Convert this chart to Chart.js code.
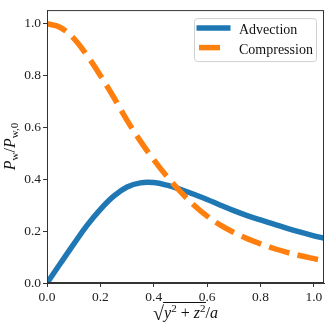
<!DOCTYPE html>
<html>
<head>
<meta charset="utf-8">
<script src="https://cdn.jsdelivr.net/npm/chart.js@4.4.1/dist/chart.umd.min.js"></script>
<style>
  html, body { margin: 0; padding: 0; background: #fff; }
</style>
</head>
<body>
<canvas id="c" width="332" height="329"></canvas>
<script>
// radial distance sqrt(y^2+z^2)/a
const xValues = [0, 0.05, 0.1, 0.15, 0.2, 0.25, 0.3, 0.35, 0.4, 0.45, 0.5,
  0.55, 0.6, 0.65, 0.7, 0.75, 0.8, 0.85, 0.9, 0.95, 1.0, 1.04];
const advection = [0, 0.075, 0.15, 0.222, 0.284, 0.335, 0.37, 0.386, 0.387, 0.377, 0.361,
  0.342, 0.322, 0.3, 0.279, 0.26, 0.243, 0.227, 0.211, 0.196, 0.182, 0.172];
const compression = [1.0, 0.985, 0.943, 0.877, 0.80, 0.716, 0.627, 0.547, 0.475, 0.41, 0.352,
  0.301, 0.258, 0.223, 0.195, 0.171, 0.151, 0.133, 0.118, 0.105, 0.094, 0.086];
const seriesNames = ['Advection', 'Compression'];
const xTicks = [0, 0.2, 0.4, 0.6, 0.8, 1.0];
const yTicks = [0, 0.2, 0.4, 0.6, 0.8, 1.0];

const BLUE = '#1f77b4';
const ORANGE = '#ff7f0e';
const SERIF = '"Liberation Serif", "Times New Roman", serif';
const DASH = [20.6, 8.9];

// dibuja una secuencia de trozos de texto (para sub/superindices)
function runsWidth(ctx, runs) {
  let w = 0;
  runs.forEach(r => { ctx.font = r.font; w += ctx.measureText(r.t).width; });
  return w;
}
function drawRuns(ctx, runs, x, y) {
  runs.forEach(r => {
    ctx.font = r.font;
    ctx.fillText(r.t, x, y + (r.dy || 0));
    r.x0 = x;
    x += ctx.measureText(r.t).width;
    r.x1 = x;
  });
}

const decorations = {
  id: 'decorations',
  afterDraw(chart) {
    const ctx = chart.ctx;
    const a = chart.chartArea;
    ctx.save();

    // marco completo
    ctx.strokeStyle = '#333';
    ctx.lineWidth = 1;
    ctx.strokeRect(a.left + 0.5, a.top + 0.5, a.right - a.left - 1, a.bottom - a.top - 1);

    // leyenda
    const bx = a.right - 130, by = a.top + 8, bw = 122, bh = 43;
    ctx.beginPath();
    ctx.roundRect(bx + 0.5, by + 0.5, bw, bh, 3);
    ctx.fillStyle = 'rgba(255,255,255,0.8)';
    ctx.fill();
    ctx.strokeStyle = '#d0d0d0';
    ctx.stroke();

    ctx.lineCap = 'butt';
    ctx.lineWidth = 5.5;
    ctx.strokeStyle = BLUE;
    ctx.beginPath();
    ctx.moveTo(bx + 2.5, by + 10);
    ctx.lineTo(bx + 36.5, by + 10);
    ctx.stroke();
    ctx.strokeStyle = ORANGE;
    ctx.beginPath();
    ctx.moveTo(bx + 5, by + 29.5);
    ctx.lineTo(bx + 26, by + 29.5);
    ctx.stroke();

    ctx.fillStyle = '#111';
    ctx.font = '14px ' + SERIF;
    ctx.textBaseline = 'alphabetic';
    ctx.fillText(seriesNames[0], bx + 45, by + 15.5);
    ctx.fillText(seriesNames[1], bx + 45, by + 35.5);

    // titulo eje x: sqrt(y^2 + z^2)/a
    const big = 'italic 16px ' + SERIF;
    const rom = '16px ' + SERIF;
    const sup = '11px ' + SERIF;
    const xRuns = [
      { t: '\u221A', font: '20px ' + SERIF, dy: 2 },
      { t: 'y', font: big },
      { t: '2', font: sup, dy: -6 },
      { t: ' + ', font: rom },
      { t: 'z', font: big },
      { t: '2', font: sup, dy: -6 },
      { t: '/', font: rom },
      { t: 'a', font: big }
    ];
    const cx = (a.left + a.right) / 2;
    const xw = runsWidth(ctx, xRuns);
    const baseX = 318;
    drawRuns(ctx, xRuns, cx - xw / 2, baseX);
    ctx.strokeStyle = '#111';
    ctx.lineWidth = 1;
    ctx.beginPath();
    ctx.moveTo(xRuns[0].x1 - 1, 302.5);
    ctx.lineTo(xRuns[5].x1 + 0.5, 302.5);
    ctx.stroke();

    // titulo eje y: P_w / P_w,0
    const sub = '11px ' + SERIF;
    const yRuns = [
      { t: 'P', font: big },
      { t: 'w', font: sub, dy: 3 },
      { t: '/', font: rom },
      { t: 'P', font: big },
      { t: 'w,0', font: sub, dy: 3 }
    ];
    const cy = (a.top + a.bottom) / 2;
    const yw = runsWidth(ctx, yRuns);
    ctx.translate(15, cy);
    ctx.rotate(-Math.PI / 2);
    drawRuns(ctx, yRuns, -yw / 2, 0);
    ctx.restore();
  }
};

const tickFont = { family: SERIF, size: 13.5 };

new Chart(document.getElementById('c'), {
  type: 'line',
  data: {
    datasets: [
      {
        label: seriesNames[0],
        data: xValues.map((x, i) => ({ x: x, y: advection[i] })),
        borderColor: BLUE,
        borderWidth: 5.5,
        pointRadius: 0,
        tension: 0.4,
        fill: false,
        clip: 0,
        order: 1
      },
      {
        label: seriesNames[1],
        data: xValues.map((x, i) => ({ x: x, y: compression[i] })),
        borderColor: ORANGE,
        borderWidth: 5.5,
        borderDash: DASH,
        borderCapStyle: 'butt',
        pointRadius: 0,
        tension: 0.4,
        fill: false,
        clip: 0,
        order: 0
      }
    ]
  },
  options: {
    responsive: false,
    animation: false,
    layout: { padding: { top: 7, right: 8, left: 0, bottom: 0 } },
    plugins: {
      legend: { display: false },
      tooltip: { enabled: false }
    },
    scales: {
      x: {
        type: 'linear',
        min: 0,
        max: 1.038,
        afterBuildTicks: s => { s.ticks = xTicks.map(v => ({ value: v })); },
        afterFit: s => { s.height = 46; },
        ticks: {
          callback: v => v.toFixed(1),
          font: tickFont,
          color: '#222',
          padding: 2,
          maxRotation: 0,
          autoSkip: false
        },
        grid: { drawOnChartArea: false, drawTicks: true, tickLength: 4, tickColor: '#333' },
        border: { display: true, color: '#333', width: 1 }
      },
      y: {
        type: 'linear',
        min: 0,
        max: 1.052,
        afterBuildTicks: s => { s.ticks = yTicks.map(v => ({ value: v })); },
        afterFit: s => { s.width = 47; },
        ticks: {
          callback: v => v.toFixed(1),
          font: tickFont,
          color: '#222',
          padding: 2,
          autoSkip: false
        },
        grid: { drawOnChartArea: false, drawTicks: true, tickLength: 4, tickColor: '#333' },
        border: { display: true, color: '#333', width: 1 }
      }
    }
  },
  plugins: [decorations]
});
</script>
</body>
</html>
